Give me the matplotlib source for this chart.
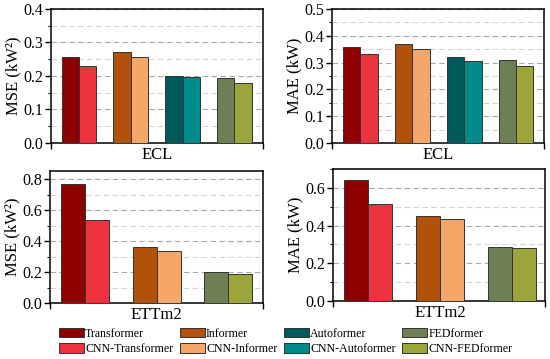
import matplotlib
matplotlib.use('Agg')
import matplotlib.pyplot as plt
from matplotlib.ticker import MultipleLocator, FixedLocator, NullFormatter, FixedFormatter
from matplotlib.patches import Patch

plt.rcParams['font.family'] = ['Liberation Serif', 'DejaVu Serif']

models = ['Transformer', 'Informer', 'Autoformer', 'FEDformer']
base_colors = ['#8c0000', '#b0520c', '#005a5a', '#6e7f56']
cnn_colors = ['#ed3340', '#f5a76a', '#008a8a', '#9ba53b']

# ECL dataset
ecl_mse_base = [0.258, 0.273, 0.201, 0.194]
ecl_mse_cnn = [0.231, 0.256, 0.198, 0.179]
ecl_mae_base = [0.358, 0.369, 0.319, 0.309]
ecl_mae_cnn = [0.332, 0.352, 0.305, 0.288]

# ETTm2 dataset (no Autoformer)
ett_models = ['Transformer', 'Informer', 'FEDformer']
ett_mse_base = [0.770, 0.365, 0.199]
ett_mse_cnn = [0.534, 0.337, 0.188]
ett_mae_base = [0.641, 0.451, 0.288]
ett_mae_cnn = [0.513, 0.434, 0.283]

fig = plt.figure(figsize=(5.5, 3.59), dpi=100)

W = 0.3855
panels = [
    # rect, dataset, base, cnn, models, ylabel, ylim, major, minor, xlim
    ([0.0927, 0.6017, W, 0.3733], 'ECL', ecl_mse_base, ecl_mse_cnn, models,
     'MSE (kW²)', 0.4, 0.1, 0.05, (-0.54, 3.55)),
    ([0.6036, 0.6017, W, 0.3733], 'ECL', ecl_mae_base, ecl_mae_cnn, models,
     'MAE (kW)', 0.5, 0.1, 0.05, (-0.55, 3.54)),
    ([0.0909, 0.156, 0.387, 0.3677], 'ETTm2', ett_mse_base, ett_mse_cnn, ett_models,
     'MSE (kW²)', 0.854, 0.2, 0.1, (-0.49, 2.485)),
    ([0.6055, 0.1616, W, 0.3677], 'ETTm2', ett_mae_base, ett_mae_cnn, ett_models,
     'MAE (kW)', 0.7, 0.2, 0.1, (-0.49, 2.46)),
]

bw = 0.335
for rect, name, base, cnn, mods, ylab, ytop, major, minor, xlim in panels:
    ax = fig.add_axes(rect)
    for i, m in enumerate(mods):
        k = models.index(m)
        ax.bar(i - bw / 2, base[i], bw, color=base_colors[k], edgecolor='#333333',
               linewidth=0.7, zorder=3)
        ax.bar(i + bw / 2, cnn[i], bw, color=cnn_colors[k], edgecolor='#333333',
               linewidth=0.7, zorder=3)
    ax.set_xlim(*xlim)
    ax.set_ylim(0, ytop)
    ax.yaxis.set_major_locator(MultipleLocator(major))
    ax.yaxis.set_minor_locator(MultipleLocator(minor))
    ax.yaxis.set_major_formatter(plt.FuncFormatter(lambda v, p: f'{v:.1f}'))
    ax.grid(axis='y', which='major', color='#a8a8a8', linestyle=(0, (5, 3)),
            linewidth=0.8, zorder=0)
    ax.grid(axis='y', which='minor', color='#d4d4d4', linestyle=(0, (5, 3)),
            linewidth=0.8, zorder=0)
    # x axis: end ticks without labels, dataset name centred
    ax.xaxis.set_major_locator(FixedLocator(list(xlim)))
    ax.xaxis.set_major_formatter(NullFormatter())
    ax.xaxis.set_minor_locator(FixedLocator([(len(mods) - 1) / 2]))
    ax.xaxis.set_minor_formatter(FixedFormatter([name]))
    ax.tick_params(axis='x', which='major', direction='out', length=4, width=1)
    ax.tick_params(axis='x', which='minor', length=0, labelsize=12, pad=3)
    ax.tick_params(axis='y', which='major', direction='out', length=4, width=1,
                   labelsize=11.5, pad=1.5)
    ax.tick_params(axis='y', which='minor', direction='out', length=2, width=0.8)
    for s in ax.spines.values():
        s.set_linewidth(1.1)
    ax.set_ylabel(ylab, fontsize=12, labelpad=1.5)

handles = []
labels = []
for k, m in enumerate(models):
    handles += [Patch(facecolor=base_colors[k], edgecolor='#333333', linewidth=0.7),
                Patch(facecolor=cnn_colors[k], edgecolor='#333333', linewidth=0.7)]
    labels += [m, 'CNN-' + m]

fig.legend(handles, labels, ncol=4, loc='lower left', bbox_to_anchor=(0.094, -0.008),
           frameon=False, fontsize=8.6, handlelength=2.1, handleheight=0.9,
           handletextpad=0.1, columnspacing=0.55, labelspacing=0.25, borderaxespad=0.2)

fig.savefig('out.png', dpi=100)
